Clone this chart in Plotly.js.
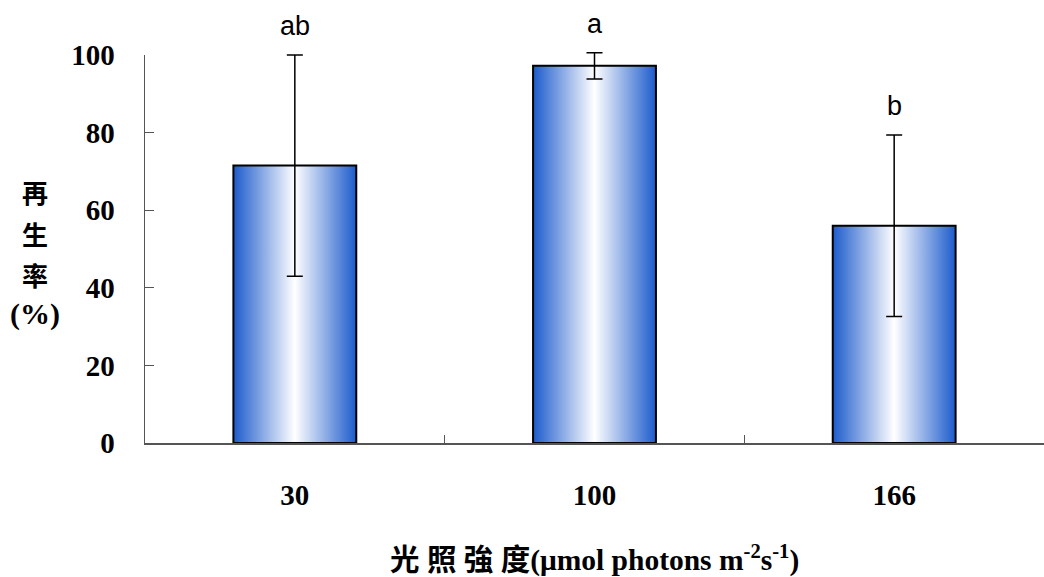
<!DOCTYPE html>
<html>
<head>
<meta charset="utf-8">
<script src="https://cdn.plot.ly/plotly-3.0.1.min.js"></script>
<style>
html,body{margin:0;padding:0;background:#fff;}
#chart{width:1044px;height:577px;}
</style>
</head>
<body>
<div id="chart"></div>
<script>
const categories = ['30', '100', '166'];
const regenerationRate = [71.5, 97.2, 56.0];
const errorValues = [28.5, 3.4, 23.4];
const significanceLetters = ['ab', 'a', 'b'];
const yTickValues = [0, 20, 40, 60, 80, 100];
const yMax = 100;

const serifBold = 'Liberation Serif, "Times New Roman", "Noto Sans CJK TC", serif';
const cjkFont = '"Noto Sans CJK TC", "Liberation Serif", serif';

const trace = {
  type: 'bar',
  x: categories,
  y: regenerationRate,
  width: 0.41,
  marker: {color: '#8fa8e0', line: {color: '#000000', width: 2}},
  error_y: {type: 'data', array: errorValues, visible: true, color: '#000000', thickness: 1.5, width: 8},
  cliponaxis: false,
  hoverinfo: 'none'
};

const annotations = significanceLetters.map((t, i) => ({
  x: i, y: (regenerationRate[i] + errorValues[i]) / yMax,
  xref: 'x', yref: 'paper', text: t, showarrow: false,
  yanchor: 'bottom', yshift: 12,
  font: {family: 'Liberation Sans, Arial, sans-serif', size: 27, color: '#000'}
}));

const yTitleParts = ['再', '生', '率', '(%)'];
const yTitlePos = [0.647, 0.541, 0.433, 0.332];
yTitleParts.forEach((t, i) => {
  annotations.push({
    x: -0.1224, y: yTitlePos[i], xref: 'paper', yref: 'paper',
    text: '<b>' + t + '</b>', showarrow: false, xanchor: 'center', yanchor: 'middle',
    font: {family: i < 3 ? cjkFont : serifBold, size: i < 3 ? 26 : 30, color: '#000'}
  });
});

annotations.push({
  x: 0.5, y: -0.297, xref: 'paper', yref: 'paper', xanchor: 'center', yanchor: 'middle',
  showarrow: false,
  text: '<b>光 照 強 度(μmol photons m<sup>-2</sup>s<sup>-1</sup>)</b>',
  font: {family: serifBold, size: 29.5, color: '#000'}
});

const layout = {
  width: 1044, height: 577,
  margin: {l: 145, r: 0, t: 55, b: 134, pad: 0},
  paper_bgcolor: '#ffffff', plot_bgcolor: '#ffffff',
  showlegend: false,
  xaxis: {
    type: 'category',
    range: [-0.5, 2.5],
    tickson: 'boundaries',
    ticks: 'inside', ticklen: 8, tickwidth: 1, tickcolor: '#555',
    showline: true, linecolor: '#555', linewidth: 1.5,
    showgrid: false, zeroline: false,
    tickangle: 0,
    tickfont: {family: serifBold, size: 29, color: '#000', weight: 'bold'},
    ticklabelstandoff: 26,
    automargin: false
  },
  yaxis: {
    range: [0, yMax],
    tickvals: yTickValues,
    ticktext: yTickValues.map(String),
    ticks: 'inside', ticklen: 9, tickwidth: 1, tickcolor: '#555',
    showline: true, linecolor: '#555', linewidth: 1.5,
    showgrid: false, zeroline: false,
    tickfont: {family: serifBold, size: 29, color: '#000', weight: 'bold'},
    ticklabelstandoff: 23,
    automargin: false
  },
  annotations: annotations
};

Plotly.newPlot('chart', [trace], layout, {displayModeBar: false, staticPlot: true}).then(gd => {
  const svg = gd.querySelector('svg.main-svg');
  const ns = 'http://www.w3.org/2000/svg';
  let defs = svg.querySelector('defs');
  if (!defs) { defs = document.createElementNS(ns, 'defs'); svg.insertBefore(defs, svg.firstChild); }
  const grad = document.createElementNS(ns, 'linearGradient');
  grad.setAttribute('id', 'barGrad');
  grad.setAttribute('x1', '0'); grad.setAttribute('x2', '1');
  grad.setAttribute('y1', '0'); grad.setAttribute('y2', '0');
  [['0', '#1c5bcc'], ['0.5', '#ffffff'], ['1', '#1c5bcc']].forEach(([o, c]) => {
    const s = document.createElementNS(ns, 'stop');
    s.setAttribute('offset', o); s.setAttribute('stop-color', c);
    grad.appendChild(s);
  });
  defs.appendChild(grad);
  gd.querySelectorAll('.bars .point path').forEach(p => { p.style.fill = 'url(#barGrad)'; });
  // let error bar caps above the top of the axis show
  gd.querySelectorAll('.errorbar, .errorbar path').forEach(eb => {
    let n = eb;
    while (n && n !== svg) {
      if (n.removeAttribute) n.removeAttribute('clip-path');
      if (n.style) { n.style.clipPath = 'none'; }
      n = n.parentNode;
    }
    if (eb.style) eb.style.display = '';
  });
});
</script>
</body>
</html>
